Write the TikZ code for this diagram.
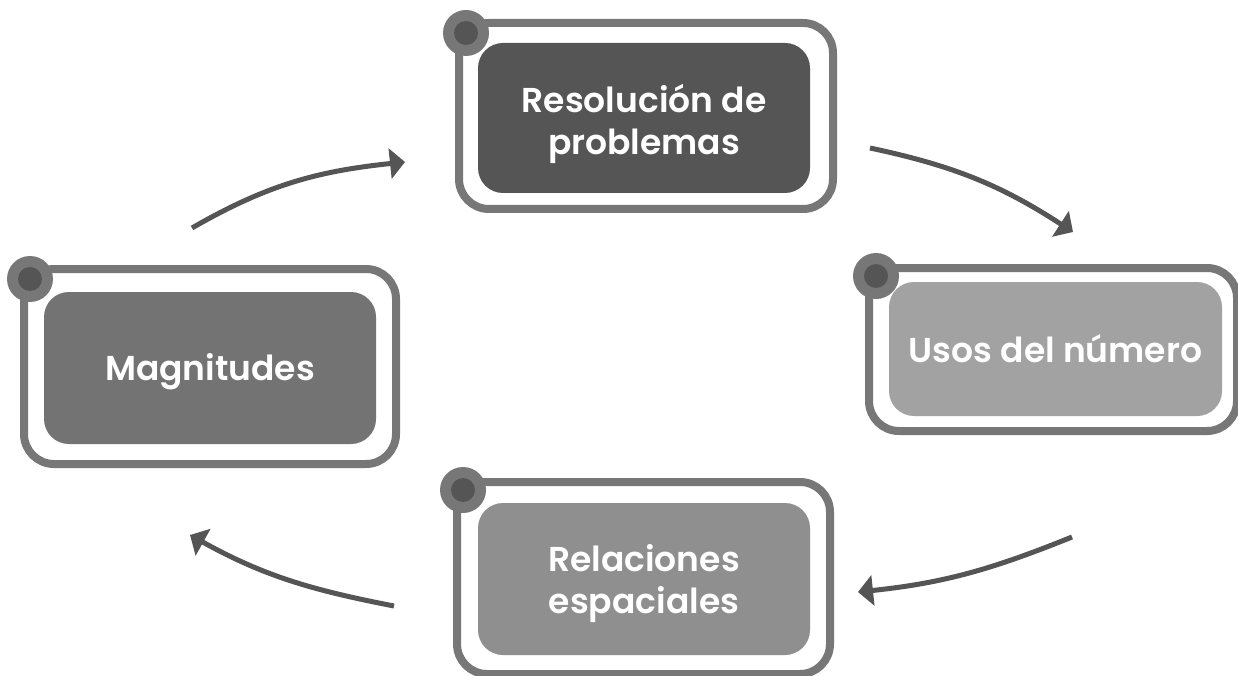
\documentclass[tikz,border=0pt]{standalone}
\usepackage{fontspec}
\newfontfamily\lblfont{Poppins SemiBold}
\usetikzlibrary{arrows.meta}
\definecolor{framegray}{HTML}{777777}
\definecolor{pindark}{HTML}{555555}
\definecolor{boxA}{HTML}{555555}
\definecolor{boxB}{HTML}{737373}
\definecolor{boxC}{HTML}{A2A2A2}
\definecolor{boxD}{HTML}{8F8F8F}
\definecolor{arrgray}{HTML}{555555}
\tikzset{
  frame/.style={draw=framegray, line width=8pt, rounded corners=30pt, fill=white, inner sep=0pt},
  inbox/.style={rounded corners=25pt, inner sep=0pt},
  lbl/.style={text=white, inner sep=0pt, align=center,
    font=\lblfont\fontsize{34.5}{42}\selectfont},
  pin/.style={circle, fill=framegray, minimum size=46pt, inner sep=0pt},
  pincore/.style={circle, fill=pindark, minimum size=24pt, inner sep=0pt},
  arr/.style={draw=arrgray, line width=5pt, -{Triangle[length=15pt,width=30pt]}}
}
\begin{document}
\begin{tikzpicture}[x=1pt,y=-1pt]
\useasboundingbox[fill=white] (0,0) rectangle (1238,676);
% Resolucion de problemas
\node[frame, minimum width=374pt, minimum height=186pt] (fR) at (646,116) {};
\node[inbox, fill=boxA, minimum width=332pt, minimum height=150pt] (R) at (644,118) {};
\node[lbl, yshift=-6pt] (tR) at (R.center) {Resolución de\\problemas};
\node[pin] (pR) at (466,33) {};
\node[pincore] (cR) at (pR) {};
% Magnitudes
\node[frame, minimum width=372pt, minimum height=195pt] (fM) at (210,366.5) {};
\node[inbox, fill=boxB, minimum width=332pt, minimum height=152pt] (M) at (210,368) {};
\node[lbl, yshift=-4pt] (tM) at (M.center) {Magnitudes};
\node[pin] (pM) at (30,279) {};
\node[pincore] (cM) at (pM) {};
% Usos del numero
\node[frame, minimum width=368pt, minimum height=163pt] (fU) at (1053,349.5) {};
\node[inbox, fill=boxC, minimum width=333pt, minimum height=134pt] (U) at (1055.5,349) {};
\node[lbl, yshift=0pt] (tU) at (U.center) {Usos del número};
\node[pin] (pU) at (876,276) {};
\node[pincore] (cU) at (pU) {};
% Relaciones espaciales
\node[frame, minimum width=373pt, minimum height=192pt] (fE) at (643.5,578) {};
\node[inbox, fill=boxD, minimum width=332pt, minimum height=152pt] (E) at (644,579) {};
\node[lbl, yshift=-5pt] (tE) at (E.center) {Relaciones\\espaciales};
\node[pin] (pE) at (463,490) {};
\node[pincore] (cE) at (pE) {};
% arrows
\coordinate (a1s) at (192,228);
\coordinate (a1e) at (405,162);
\coordinate (a2s) at (870,148);
\coordinate (a2e) at (1073,232);
\coordinate (a3s) at (1072,537);
\coordinate (a3e) at (858,592);
\coordinate (a4s) at (394,606);
\coordinate (a4e) at (190,535);
\draw[arr] (a1s) to[out=30, in=186] (a1e);
\draw[arr] (a2s) to[out=-12, in=147] (a2e);
\draw[arr] (a3s) to[out=202, in=6] (a3e);
\draw[arr] (a4s) to[out=169, in=-29] (a4e);
\end{tikzpicture}
\end{document}
